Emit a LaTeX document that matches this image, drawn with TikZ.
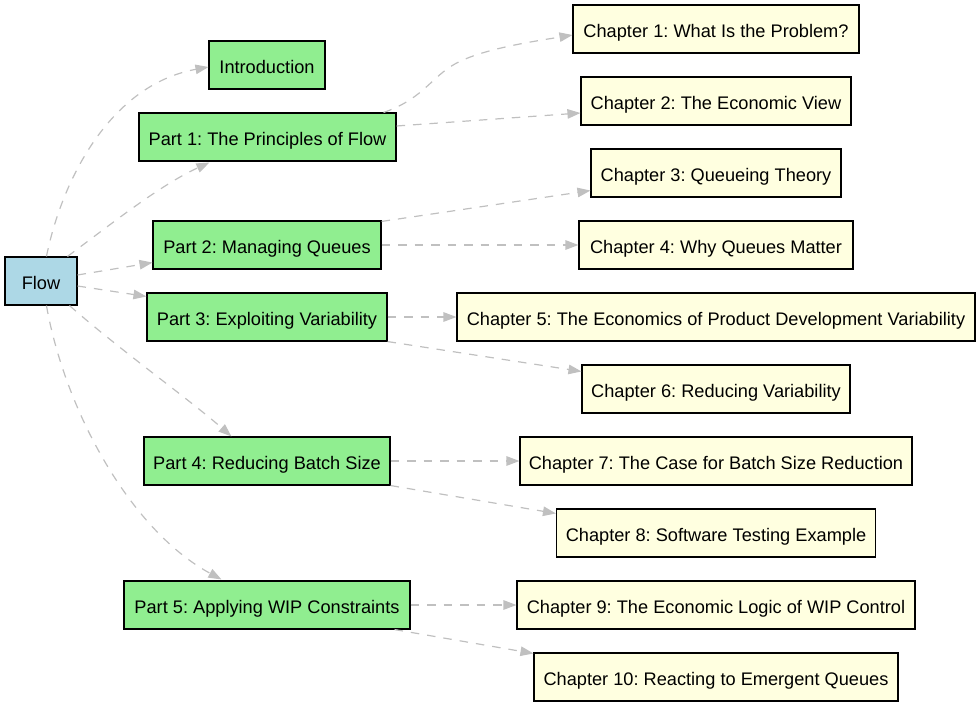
\documentclass[tikz,border=0pt]{standalone}
\usepackage{fontspec}
\setmainfont{Liberation Sans}
\usetikzlibrary{arrows.meta,calc}
\definecolor{edgegray}{HTML}{C0C0C0}
\definecolor{partgreen}{HTML}{90EE90}
\definecolor{rootblue}{HTML}{ADD8E6}
\definecolor{chapyellow}{HTML}{FFFFE0}
\tikzset{
  box/.style={draw=black, line width=1.1pt, rectangle, minimum height=48pt, inner sep=0pt, text height=16pt, text depth=0pt, font=\fontsize{18.2pt}{22pt}\selectfont, text=black},
  rootbox/.style={box, fill=rootblue},
  partbox/.style={box, fill=partgreen},
  chapbox/.style={box, fill=chapyellow},
  link/.style={draw=edgegray, line width=1.2pt, dash pattern=on 8.5pt off 8pt, -{Triangle[length=13pt,width=9.5pt,fill=edgegray]}}
}
\begin{document}
\frenchspacing
\begin{tikzpicture}[x=1pt,y=-1pt]
\useasboundingbox (0,0) rectangle (980,707);
\node[rootbox, minimum width=72pt] (flow) at (41,281) {Flow};
\node[partbox, minimum width=116pt] (intro) at (267,65) {Introduction};
\node[partbox, minimum width=257pt] (p1) at (267.5,137) {Part 1: The Principles of Flow};
\node[partbox, minimum width=228pt] (p2) at (267,245) {Part 2: Managing Queues};
\node[partbox, minimum width=240pt] (p3) at (267,317) {Part 3: Exploiting Variability};
\node[partbox, minimum width=246pt] (p4) at (267,461) {Part 4: Reducing Batch Size};
\node[partbox, minimum width=286pt] (p5) at (267,605) {Part 5: Applying WIP Constraints};
\node[chapbox, minimum width=286pt] (c1) at (716,29) {Chapter 1: What Is the Problem?};
\node[chapbox, minimum width=270pt] (c2) at (716,101) {Chapter 2: The Economic View};
\node[chapbox, minimum width=250pt] (c3) at (716,173) {Chapter 3: Queueing Theory};
\node[chapbox, minimum width=274pt] (c4) at (716,245) {Chapter 4: Why Queues Matter};
\node[chapbox, minimum width=518pt] (c5) at (716,317) {Chapter 5: The Economics of Product Development Variability};
\node[chapbox, minimum width=268pt] (c6) at (716,389) {Chapter 6: Reducing Variability};
\node[chapbox, minimum width=392pt] (c7) at (716,461) {Chapter 7: The Case for Batch Size Reduction};
\node[chapbox, minimum width=319pt] (c8) at (716,533) {Chapter 8: Software Testing Example};
\node[chapbox, minimum width=398pt] (c9) at (716,605) {Chapter 9: The Economic Logic of WIP Control};
\node[chapbox, minimum width=364pt] (c10) at (716,677) {Chapter 10: Reacting to Emergent Queues};
% Flow to parts
\draw[link] ($(flow.north west)+(42,0)$) .. controls (62,180) and (110,85) .. ($(intro.west)+(0,2)$);
\draw[link] ($(flow.north west)+(63,0)$) .. controls (110,225) and (160,185) .. ($(p1.south west)+(71,1)$);
\draw[link] ($(flow.east)+(0,-6)$) -- ($(p2.south west)+(0,-7)$);
\draw[link] ($(flow.east)+(0,5)$) -- ($(p3.north west)+(0,4)$);
\draw[link] ($(flow.south west)+(65,0)$) .. controls (120,350) and (190,400) .. ($(p4.north west)+(88,0)$);
\draw[link] ($(flow.south west)+(42,0)$) .. controls (65,410) and (130,530) .. ($(p5.north west)+(98,-1)$);
% Parts to chapters
\draw[link] ($(p1.north east)+(-13,0)$) .. controls (420,100) and (430,80) .. (450,67) .. controls (475,50) and (530,42) .. ($(c1.west)+(0,6)$);
\draw[link] ($(p1.east)+(0,-11)$) -- ($(c2.west)+(0,12)$);
\draw[link] ($(p2.north east)+(0,1)$) -- ($(c3.south west)+(0,-7)$);
\draw[link] (p2.east) -- (c4.west);
\draw[link] (p3.east) -- (c5.west);
\draw[link] ($(p3.south east)+(0,0)$) -- ($(c6.north west)+(0,7)$);
\draw[link] (p4.east) -- (c7.west);
\draw[link] (p4.south east) -- ($(c8.north west)+(0,5)$);
\draw[link] (p5.east) -- (c9.west);
\draw[link] ($(p5.south east)+(-16,0)$) -- ($(c10.north west)+(0,1)$);
\end{tikzpicture}
\end{document}
